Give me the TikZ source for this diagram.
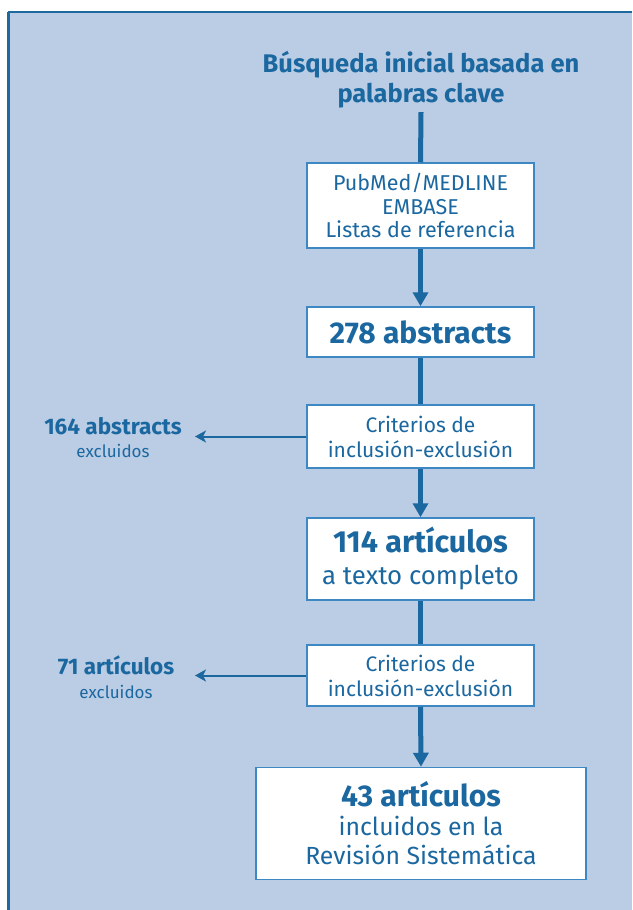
\documentclass[tikz,border=0pt]{standalone}
\usepackage{fontspec}
\setmainfont{Fira Sans}
\usetikzlibrary{arrows.meta}
\definecolor{bgblue}{HTML}{BBCDE4}
\definecolor{txtblue}{HTML}{1B67A0}
\definecolor{boxline}{HTML}{3D87C2}
\definecolor{frameblue}{HTML}{1E6AA0}
\tikzset{
  flowbox/.style={draw=boxline, line width=1.5pt, fill=white, text=txtblue, align=center, inner sep=0pt},
  mainline/.style={draw=txtblue, line width=5pt},
  mainarrow/.style={mainline, -{Triangle[width=15pt,length=14pt]}},
  sidearrow/.style={draw=txtblue, line width=2pt, -{Stealth[width=12pt,length=11pt,inset=3pt]}},
  sidelabel/.style={text=txtblue, align=center, inner sep=0pt},
}
\begin{document}
\begin{tikzpicture}[x=1pt,y=-1pt]
\useasboundingbox (0,0) rectangle (632,910);
\fill[white] (0,0) rectangle (632,910);
\fill[bgblue] (8,12) rectangle (632,910);
\draw[frameblue, line width=2pt] (8,12) -- (632,12);
\draw[frameblue, line width=3pt] (8.5,12) -- (8.5,910);

\node[text=txtblue, align=center, inner sep=0pt, font=\fontsize{25.5}{30}\selectfont\bfseries, minimum height=64pt] (title) at (421,80) {Búsqueda inicial basada en\\palabras clave};

\node[flowbox, minimum width=227pt, minimum height=85pt, font=\fontsize{21.5}{23.5}\selectfont] (b1) at (420.5,205.5) {PubMed/MEDLINE\\EMBASE\\Listas de referencia};
\node[flowbox, minimum width=227pt, minimum height=50pt, font=\fontsize{30}{32}\selectfont\bfseries] (b2) at (420.5,332) {278 abstracts};
\node[flowbox, minimum width=227pt, minimum height=63pt, font=\fontsize{21}{25}\selectfont] (b3) at (420.5,436.5) {Criterios de\\inclusión-exclusión};
\node[flowbox, minimum width=227pt, minimum height=82pt, font=\fontsize{25.8}{32}\selectfont] (b4) at (420.5,559) {{\fontsize{30.5}{32}\selectfont\bfseries 114 artículos}\\a texto completo};
\node[flowbox, minimum width=227pt, minimum height=61pt, font=\fontsize{21}{25}\selectfont] (b5) at (420.5,675.5) {Criterios de\\inclusión-exclusión};
\node[flowbox, minimum width=330pt, minimum height=112pt, font=\fontsize{24.8}{29}\selectfont] (b6) at (421,823.5) {{\fontsize{30}{29}\selectfont\bfseries 43 artículos}\\incluidos en la\\Revisión Sistemática};

\node[sidelabel, font=\fontsize{22.5}{23}\selectfont] (x1) at (113,438) {{\bfseries 164 abstracts}\\{\fontsize{17}{23}\selectfont excluidos}};
\node[sidelabel, font=\fontsize{22.5}{24}\selectfont] (x2) at (116,677) {{\bfseries 71 artículos}\\{\fontsize{17}{24}\selectfont excluidos}};
\coordinate (t1) at (195,436.5);
\coordinate (t2) at (195,675.5);

\draw[mainline] (title.south) -- (b1.north);
\draw[mainarrow] (b1.south) -- (b2.north);
\draw[mainline] (b2.south) -- (b3.north);
\draw[mainarrow] (b3.south) -- (b4.north);
\draw[mainline] (b4.south) -- (b5.north);
\draw[mainarrow] (b5.south) -- (b6.north);

\draw[sidearrow] (b3.west) -- (t1);
\draw[sidearrow] (b5.west) -- (t2);
\end{tikzpicture}
\end{document}
